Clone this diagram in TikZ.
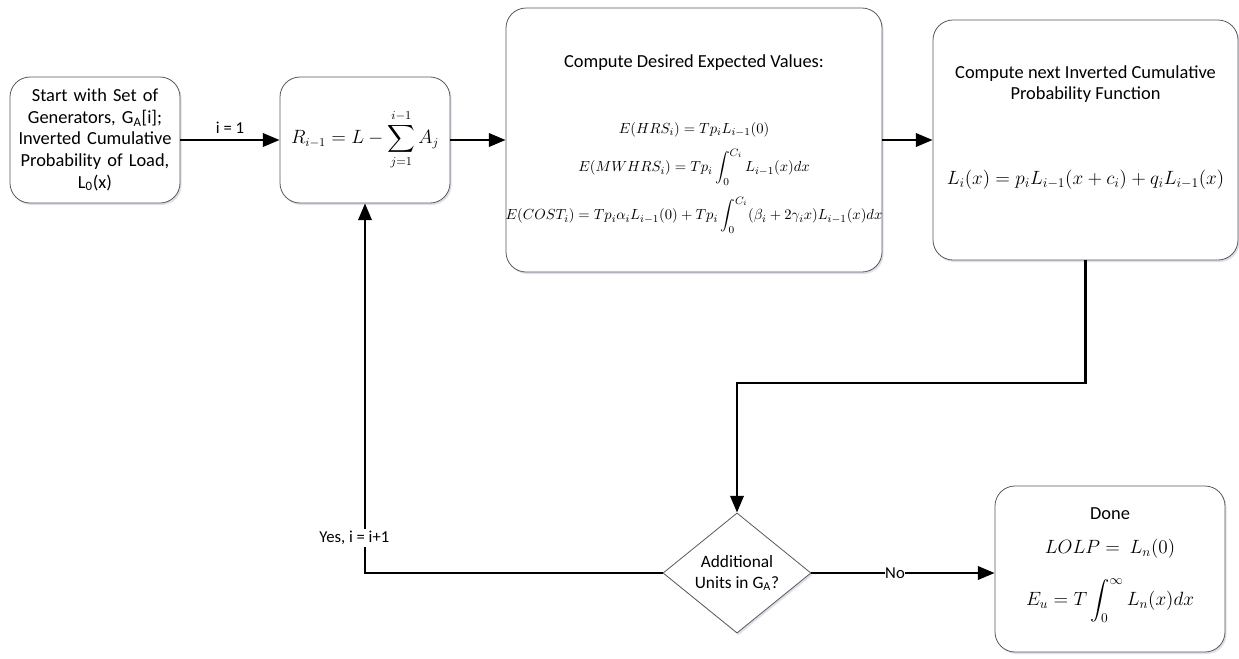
\documentclass[tikz,border=0pt]{standalone}
\usepackage{amsmath}
\usepackage{fontspec}
\setmainfont{Carlito}
\usetikzlibrary{arrows.meta,shapes.geometric,shadows}
\begin{document}
\begin{tikzpicture}[x=0.75pt,y=-0.75pt,
  font=\fontsize{12.5}{16}\selectfont,
  box/.style={draw=black!65, line width=0.6pt, rounded corners=15pt, fill=white,
    align=center, inner sep=0pt,
    drop shadow={shadow xshift=1.2pt, shadow yshift=-1.5pt, fill=blue!25!gray!45, opacity=0.45}},
  dec/.style={draw=black!65, line width=0.6pt, shape=diamond, fill=white, align=center,
    inner sep=0pt, minimum width=111pt, minimum height=80.25pt,
    drop shadow={shadow xshift=1.2pt, shadow yshift=-1.5pt, fill=blue!25!gray!45, opacity=0.45}},
  flow/.style={line width=1.8pt, -{Triangle[length=12.5pt,width=10pt]}},
  lbl/.style={fill=white, inner sep=1.5pt},
  big/.style={font=\fontsize{13.8}{16.2}\selectfont},
  eqs/.style={inner sep=0pt, font=\fontsize{11.3}{14}\selectfont},
  eqb/.style={inner sep=0pt, font=\fontsize{14.3}{16}\selectfont}]
\useasboundingbox (0,0) rectangle (1239,658);

% boxes
\node[box, big, minimum width=127.5pt, minimum height=94.5pt, text width=125pt] (start) at (95,140)
  {Start with Set of\\Generators, G\textsubscript{A}[i];\\Inverted Cumulative\\Probability of Load,\\L\textsubscript{0}(x)};
\node[box, minimum width=127.5pt, minimum height=94.5pt, font=\fontsize{13.5}{16}\selectfont] (R) at (365,140)
  {$R_{i-1} = L - \displaystyle\sum_{j=1}^{i-1} A_j$};
\node[box, minimum width=282pt, minimum height=198pt] (E) at (694,140) {};
\node[box, minimum width=228.75pt, minimum height=180pt] (L) at (1085.5,140) {};
\node[dec, font=\fontsize{13}{16}\selectfont] (D) at (737,573) {Additional\\Units in G\textsubscript{A}?};
\node[box, minimum width=172.5pt, minimum height=124.5pt] (done) at (1110,569) {};

% texts inside E
\node[inner sep=0pt, big] (Et) at (694,63) {Compute Desired Expected Values:};
\node[eqs] (E1) at (694,130) {$E(HRS_i) = Tp_iL_{i-1}(0)$};
\node[eqs] (E2) at (694,167) {$E(MWHRS_i) = Tp_i\displaystyle\int_0^{C_i} L_{i-1}(x)dx$};
\node[eqs] (E3) at (694,215) {$E(COST_i) = Tp_i\alpha_iL_{i-1}(0) + Tp_i\displaystyle\int_0^{C_i}(\beta_i+2\gamma_ix)L_{i-1}(x)dx$};

% texts inside L
\node[inner sep=0pt, align=center, big] (Lt) at (1085.5,84) {Compute next Inverted Cumulative\\Probability Function};
\node[eqb] (L1) at (1085.5,180) {$L_i(x) = p_iL_{i-1}(x+c_i) + q_iL_{i-1}(x)$};

% texts inside Done
\node[inner sep=0pt, big] (Dt) at (1110,514) {Done};
\node[eqb] (D1) at (1110,549) {$LOLP = \ L_n(0)$};
\node[eqb] (D2) at (1110,601) {$E_u = T\displaystyle\int_0^{\infty} L_n(x)dx$};

% connectors
\coordinate (bend) at (737,383);
\draw[flow] (start) -- node[above=4pt, inner sep=0pt] {i = 1} (R);
\draw[flow] (R) -- (E);
\draw[flow] (E) -- (L);
\draw[flow] (L.south) |- (bend) -- (D.north);
\draw[flow] (D.west) -| node[pos=0.547, lbl, xshift=-8pt] {Yes, i = i+1} (R.south);
\draw[flow] (D.east) -- node[lbl, inner sep=0.5pt, xshift=-6pt] {No} (D.east -| done.west);
\end{tikzpicture}
\end{document}
